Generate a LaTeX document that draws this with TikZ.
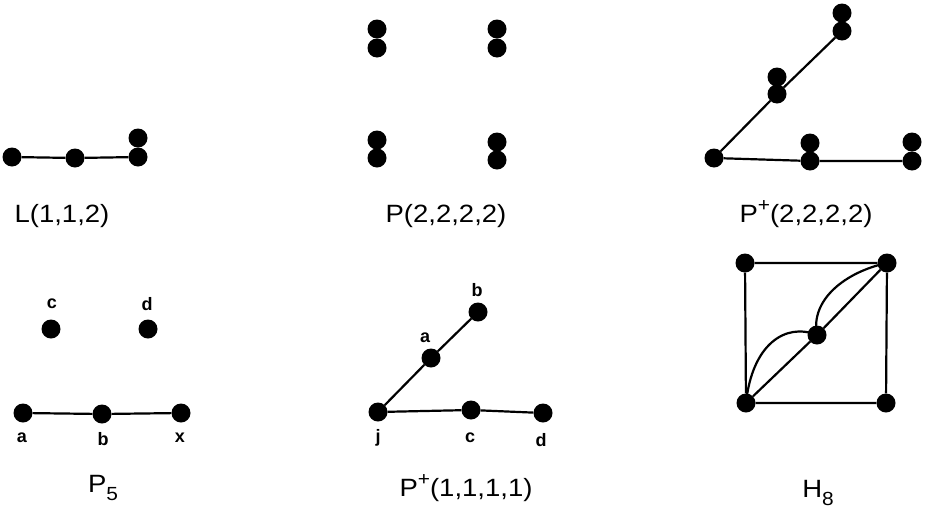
\documentclass[tikz,border=0pt]{standalone}
\usepackage{fontspec}
\setmainfont{Liberation Sans}
\newfontfamily\labfont[FakeStretch=1.1]{Liberation Sans}
\newcommand{\supplus}{\raisebox{0.42em}{\fontsize{19}{19}\selectfont +}}
\newcommand{\subnum}[1]{\raisebox{-0.35em}{\fontsize{19}{19}\selectfont #1}}
\begin{document}
\begin{tikzpicture}[x=1pt,y=-1pt,
  v/.style={circle,fill=black,inner sep=0pt,minimum size=19pt},
  e/.style={line width=2.2pt},
  lab/.style={font=\labfont\fontsize{25}{25}\selectfont,inner sep=0pt},
  sm/.style={font=\bfseries\fontsize{18}{18}\selectfont,inner sep=0pt}]
\useasboundingbox[fill=white] (0,0) rectangle (926,517);
% L(1,1,2)
\node[v] (l1) at (12,157) {};
\node[v] (l2) at (75,158) {};
\node[v] (l3) at (138,157) {};
\node[v] (l4) at (138,138) {};
\draw[e] (l1) -- (l2) -- (l3);
\node[lab] (tl) at (62,216) {L(1,1,2)};
% P(2,2,2,2)
\node[v] (p1) at (377,29) {};
\node[v] (p2) at (377,48) {};
\node[v] (p3) at (497,29) {};
\node[v] (p4) at (497,48) {};
\node[v] (p5) at (377,140) {};
\node[v] (p6) at (377,158) {};
\node[v] (p7) at (497,142) {};
\node[v] (p8) at (497,160) {};
\node[lab] (tp) at (446,216) {P(2,2,2,2)};
% P+(2,2,2,2)
\node[v] (q0) at (714,158) {};
\node[v] (q1) at (777,77) {};
\node[v] (q2) at (777,94) {};
\node[v] (q3) at (842,13) {};
\node[v] (q4) at (842,31) {};
\node[v] (q5) at (810,143) {};
\node[v] (q6) at (810,161) {};
\node[v] (q7) at (912,142) {};
\node[v] (q8) at (912,161) {};
\draw[e] (q0) -- (q2) -- (q4);
\draw[e] (q0) -- (q6) -- (q8);
\node[lab] (tq) at (806,214) {P\supplus(2,2,2,2)};
% P5
\node[v] (c5) at (51,329) {};
\node[v] (d5) at (148,329) {};
\node[v] (a5) at (23,413) {};
\node[v] (b5) at (102,414) {};
\node[v] (x5) at (181,413) {};
\draw[e] (a5) -- (b5) -- (x5);
\node[sm] at (52,304) {c};
\node[sm] at (147,304) {d};
\node[sm] at (22,438) {a};
\node[sm] at (103,439) {b};
\node[sm] at (180,438) {x};
\node[lab] (t5) at (103,488) {P\subnum{5}};
% P+(1,1,1,1)
\node[v] (jj) at (378,412) {};
\node[v] (aa) at (431,358) {};
\node[v] (bb) at (478,312) {};
\node[v] (cc) at (471,410) {};
\node[v] (dd) at (543,413) {};
\draw[e] (jj) -- (aa) -- (bb);
\draw[e] (jj) -- (cc) -- (dd);
\node[sm] at (477,290) {b};
\node[sm] at (425,338) {a};
\node[sm] at (378,438) {j};
\node[sm] at (470,438) {c};
\node[sm] at (541,440) {d};
\node[lab] (tr) at (466,488) {P\supplus(1,1,1,1)};
% H8
\node[v] (h1) at (745,263) {};
\node[v] (h2) at (887,263) {};
\node[v] (h0) at (817,335) {};
\node[v] (h3) at (746,403) {};
\node[v] (h4) at (886,403) {};
\draw[e] (h1) -- (h2) -- (h4) -- (h3) -- (h1);
\draw[e] (h3) -- (h0) -- (h2);
\draw[e] (h3.center) .. controls (752,345) and (785,322) .. (h0.center);
\draw[e] (h0.center) .. controls (810,300) and (845,272) .. (h2.center);
\node[lab] (th) at (818,493) {H\subnum{8}};
\end{tikzpicture}
\end{document}
